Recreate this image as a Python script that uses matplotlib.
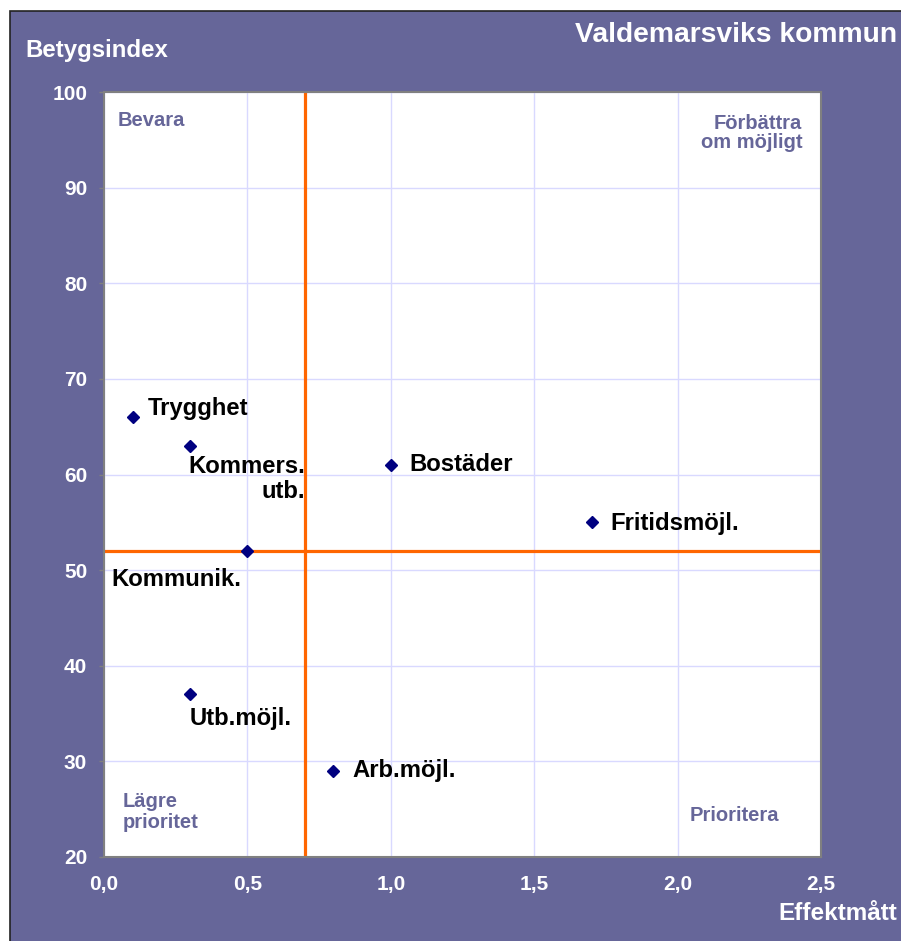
import matplotlib
matplotlib.use('Agg')
import matplotlib.pyplot as plt
from matplotlib.patches import Rectangle

plt.rc('font', family=['Liberation Sans', 'DejaVu Sans'], weight='bold')

# data
names = ['Trygghet', 'Kommers.\nutb.', 'Bostäder', 'Fritidsmöjl.',
         'Kommunik.', 'Utb.möjl.', 'Arb.möjl.']
effekt = [0.1, 0.3, 1.0, 1.7, 0.5, 0.3, 0.8]
betyg = [66, 63, 61, 55, 52, 37, 29]
# label offsets in pixels from the point
offs = [(15, 9), (115, -33), (19, 0), (19, -1), (-136, -28), (0, -24), (19, 0)]
has = ['left', 'right', 'left', 'left', 'left', 'left', 'left']

x_mid = 0.7
y_mid = 52
xticks = [0.0, 0.5, 1.0, 1.5, 2.0, 2.5]
xticklabels = ['0,0', '0,5', '1,0', '1,5', '2,0', '2,5']
yticks = [20, 30, 40, 50, 60, 70, 80, 90, 100]

purple = '#666699'

fig = plt.figure(figsize=(9.01, 9.41), dpi=100)
fig.patch.set_facecolor('white')
fig.patches.append(Rectangle((10/901, -0.01), 1, 1.01 - 11/941, transform=fig.transFigure,
                             facecolor=purple, edgecolor='#222222', lw=1.2, zorder=-1))

ax = fig.add_axes([104/901, 1 - 857/941, 717/901, 765/941])
ax.set_facecolor('white')
ax.set_xlim(0, 2.5)
ax.set_ylim(20, 100)
ax.set_xticks(xticks)
ax.set_xticklabels(xticklabels)
ax.set_yticks(yticks)
ax.grid(color='#d9d9ff', lw=1)
ax.set_axisbelow(True)
for s in ax.spines.values():
    s.set_color('#808080')
    s.set_linewidth(1.5)
ax.tick_params(axis='y', colors='#808080', length=3.6, width=1, labelcolor='white',
               labelsize=15, pad=8.5)
ax.tick_params(axis='x', length=0, labelcolor='white', labelsize=15, pad=13)

ax.axvline(x_mid, color='#ff6600', lw=2.3, zorder=2)
ax.axhline(y_mid, color='#ff6600', lw=2.3, zorder=2)

ax.plot(effekt, betyg, 'D', color='#000080', ms=6.5, zorder=3, clip_on=False)
for n, x, y, o, h in zip(names, effekt, betyg, offs, has):
    ax.annotate(n, (x, y), xytext=o, textcoords='offset pixels', ha=h, va='center',
                multialignment=h, fontsize=17.2, color='black', linespacing=1.1)

# quadrant texts
ax.text(0.049, 97.0, 'Bevara', color=purple, fontsize=14.5, ha='left', va='center')
ax.text(2.434, 95.7, 'Förbättra\nom möjligt', color=purple, fontsize=14.5,
        ha='right', va='center', multialignment='right', linespacing=1.05)
ax.text(0.066, 24.7, 'Lägre\nprioritet', color=purple, fontsize=14.5,
        ha='left', va='center', linespacing=1.1)
ax.text(2.197, 24.3, 'Prioritera', color=purple, fontsize=14.5, ha='center', va='center')

fig.text(897/901, 1 - 35/941, 'Valdemarsviks kommun', color='white', fontsize=20.3,
         ha='right', va='center')
fig.text(25/901, 1 - 50/941, 'Betygsindex', color='white', fontsize=17.3,
         ha='left', va='center')
fig.text(897/901, 1 - 914/941, 'Effektmått', color='white', fontsize=17.5,
         ha='right', va='center')

fig.savefig('out.png', dpi=100)
